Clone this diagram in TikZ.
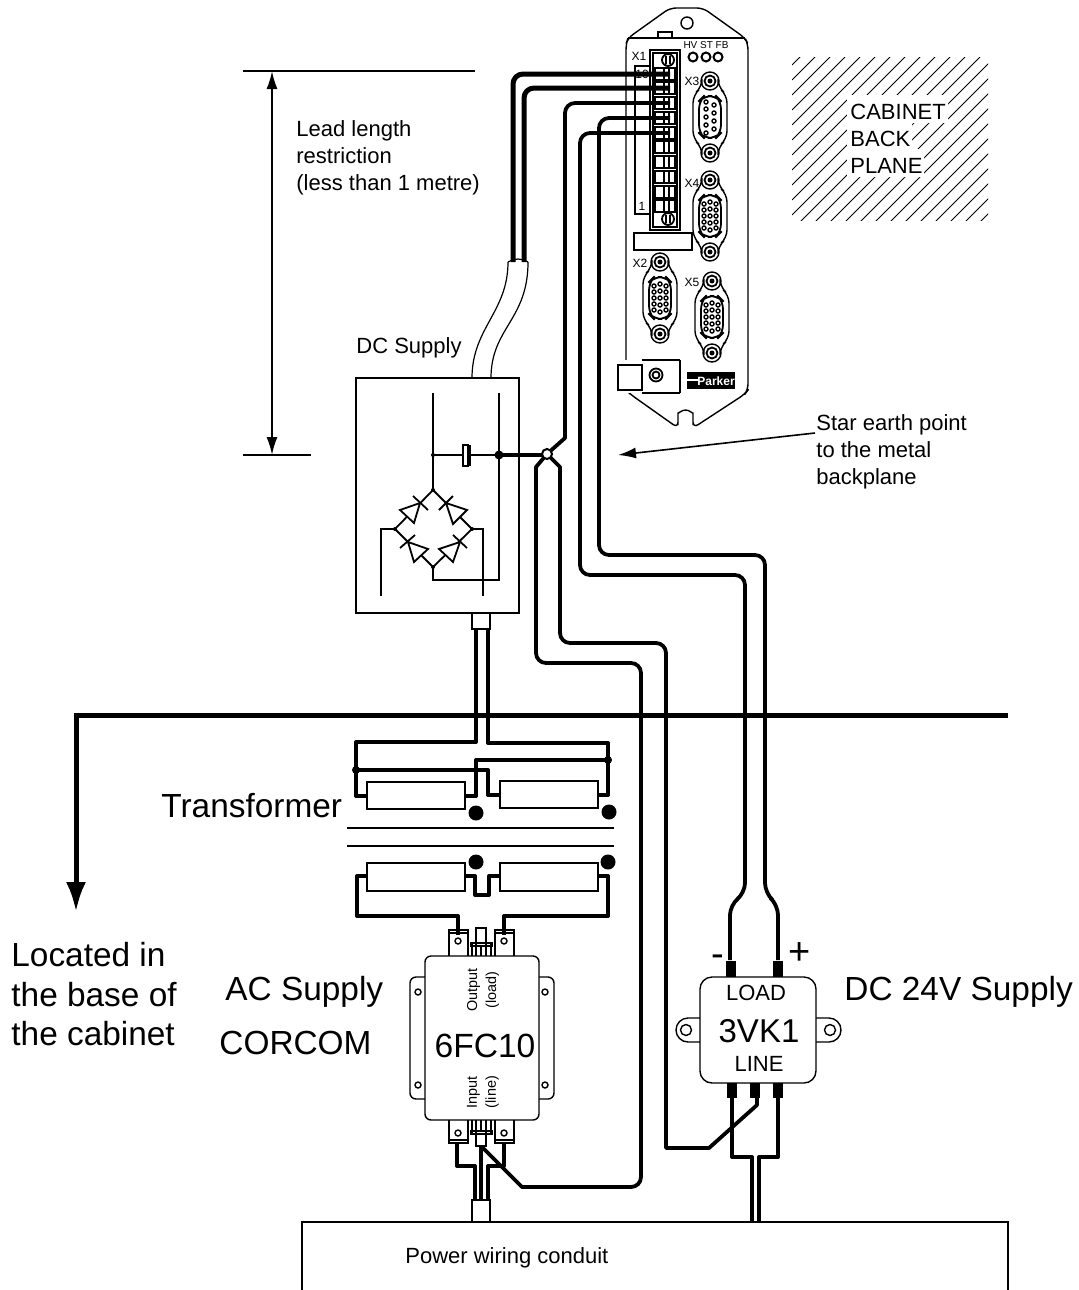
\documentclass[tikz,border=0pt]{standalone}
\usepackage{fontspec}
\setmainfont{Liberation Sans}
\usetikzlibrary{arrows.meta}
\tikzset{
  cablewire/.style={line width=2.5pt,rounded corners=5pt,line join=round},
  earthwire/.style={line width=1.9pt,rounded corners=5pt,line join=round},
  feedwire/.style={line width=2pt,line join=round},
  thinline/.style={line width=0.5pt},
  part/.style={line width=0.7pt},
  txt/.style={inner sep=0pt,font=\fontsize{11}{13.5}\selectfont,align=left},
  bigtxt/.style={inner sep=0pt,font=\fontsize{16.7}{19.8}\selectfont,align=left},
  tinytxt/.style={inner sep=0pt,font=\fontsize{6}{7}\selectfont},
  sidetxt/.style={inner sep=0pt,rotate=90,font=\fontsize{7.2}{9.5}\selectfont,align=center},
}
% connector with two screws, cx cy and the list of pins
\newcommand{\dsubport}[3]{
  \draw[part,rounded corners=4pt] (#1-8,#2-32) -- (#1-8,#2-30) -- (#1-17,#2-22) -- (#1-17,#2+22)
    -- (#1-8,#2+30) -- (#1-8,#2+32) (#1+8,#2-32) -- (#1+8,#2-30) -- (#1+17,#2-22) -- (#1+17,#2+22)
    -- (#1+8,#2+30) -- (#1+8,#2+32);
  \draw[line width=0.9pt,rounded corners=4pt] (#1-11,#2-16) -- (#1-6,#2-21) -- (#1+6,#2-21) -- (#1+11,#2-16)
    -- (#1+11,#2+16) -- (#1+6,#2+21) -- (#1-6,#2+21) -- (#1-11,#2+16) -- cycle;
  \foreach \sy in {-36,36}{
    \draw[part] (#1,#2+\sy) circle (9);
    \draw[line width=0.9pt] (#1,#2+\sy) circle (5.5);
    \fill (#1,#2+\sy) circle (2.5);
  }
  \foreach \px/\py in #3
    \draw[part] (#1+\px,#2+\py) circle (2);
}
\newcommand{\pinsnine}{-4/-15,-4/-8,-4/0,-4/8,-4/16,4/-12,4/-4,4/4,4/12}
\newcommand{\pinsfifteen}{-6/-12,-6/-6,-6/0,-6/6,-6/12,0/-14,0/-7,0/0,0/7,0/14,6/-12,6/-6,6/0,6/6,6/12}
\begin{document}
\begin{tikzpicture}[x=0.5pt,y=-0.5pt]
  \useasboundingbox (0,0) rectangle (1078,1290);
  % lead length
  \draw[thinline,line width=0.9pt] (243,71) -- (475,71) (243,455) -- (311,455);
  \draw[{Latex[length=9pt,width=5.5pt]}-{Latex[length=9pt,width=5.5pt]},line width=0.9pt] (272,71) -- (272,455);
  \node[txt,anchor=north west] (leadtext) at (296,120) {Lead length\\restriction\\(less than 1 metre)};
  % drive
  \draw[part,rounded corners=3pt] (626,44) -- (628,38) -- (670,8) -- (703,8) -- (745,38) -- (748,44)
    -- (748,390) -- (745,394) -- (693,428) -- (693,419) arc[start angle=0,end angle=-180,x radius=7.5,y radius=9]
    -- (678,428) -- (630,394) -- (626,390) -- cycle;
  \draw[part] (628,38) -- (745,38) (658,38) -- (658,32) -- (672,32) -- (672,38);
  \draw[part] (687,23) circle (6);
  \foreach \lx in {693,706,718}
    \draw[line width=1pt] (\lx,57) circle (4.5);
  \node[tinytxt,font=\fontsize{5}{6}\selectfont] (ledtext) at (706,45) {HV ST FB};
  \node[tinytxt] (xone) at (639,56) {X1};
  \node[tinytxt] (xthree) at (692,81) {X3};
  \node[tinytxt] (xfour) at (692,183) {X4};
  \node[tinytxt] (xtwo) at (640,263) {X2};
  \node[tinytxt] (xfive) at (692,282) {X5};
  \draw[thinline,line width=0.6pt] (650,66) -- (635,66) -- (635,214) -- (650,214);
  \node[tinytxt] (pinten) at (642,74) {10};
  \node[tinytxt] (pinone) at (642,206) {1};
  \draw[line width=1pt] (650,50) rectangle (680,230);
  \draw[part] (653,53) rectangle (677,227);
  \foreach \ty in {74,88,103,118,133,147,162,177,192,206}{
    \draw[part] (655,\ty-6) rectangle (675,\ty+6) (664,\ty-6) -- (664,\ty+6) (669,\ty-6) -- (669,\ty+6);
  }
  \foreach \ty in {60,219}{
    \draw[line width=0.9pt] (668,\ty) circle (6) (666,\ty-4) -- (666,\ty+4) (670,\ty-4) -- (670,\ty+4);
  }
  \draw[part] (634,233) rectangle (692,250);
  \dsubport{710}{117}{\pinsnine}
  \dsubport{710}{216}{\pinsfifteen}
  \dsubport{660}{298}{\pinsfifteen}
  \dsubport{712}{317}{\pinsfifteen}
  \fill[white] (618,360) rectangle (680,393);
  \draw[part] (618,365) rectangle (642,390) (642,360) -- (680,360) (642,393) -- (680,393) (642,365) -- (642,390) (680,360) -- (680,393);
  \draw[line width=0.9pt] (656,375) circle (6.5) (656,375) circle (3.5);
  \fill (687,372) rectangle (735,389);
  \draw[white,line width=0.6pt] (687,380) -- (699,380);
  \node[inner sep=0pt,white,font=\bfseries\fontsize{6}{7}\selectfont] (parker) at (716,381) {Parker};
  % back plane
  \begin{scope}
    \clip (792,57) rectangle (988,220);
    \foreach \hc in {0,...,23}
      \draw[thinline] (792,65+15*\hc) -- ++(360,-360);
  \end{scope}
  \fill[white] (847,95) rectangle (948,123) (847,123) rectangle (912,149) (847,149) rectangle (924,177);
  \node[txt,anchor=north west] (planetext) at (850,104) {CABINET\\BACK\\PLANE};
  % dc supply
  \node[txt,anchor=west] (dctext) at (356,348) {DC Supply};
  \draw[thinline,line width=0.6pt] (508,262) .. controls (508,312) and (472,328) .. (472,378);
  \draw[thinline,line width=0.6pt] (528,262) .. controls (528,320) and (491,328) .. (491,378);
  \draw[thinline,line width=0.6pt] (508,262) .. controls (514,258) and (522,258) .. (528,262);
  \draw[line width=1.4pt] (356,378) rectangle (519,613);
  \draw[line width=0.8pt] (433,393) -- (433,490) (499,393) -- (499,580) -- (433,580) -- (433,567);
  \draw[line width=0.8pt] (433,455) -- (463,455) (470,455) -- (499,455);
  \draw[line width=0.9pt] (463,445) rectangle (468,466);
  \draw[line width=1.1pt] (470,445) -- (470,466);
  \draw[line width=0.9pt] (433,490) -- (395,529) -- (433,567) -- (472,529) -- cycle;
  \draw[line width=0.8pt] (395,529) -- (381,529) -- (381,596) (472,529) -- (483,529) -- (483,596);
  \foreach \ax/\ay/\bx/\by/\cx/\cy/\dx/\dy/\ex/\ey in {420/503/400/510/414/523/413/496/428/510,446/503/467/510/453/524/453/496/439/510,408/542/428/549/414/562/415/535/400/548,460/542/439/549/453/562/453/535/467/548}{
    \draw[line width=0.9pt,fill=white] (\ax,\ay) -- (\bx,\by) -- (\cx,\cy) -- cycle;
    \draw[line width=0.9pt] (\dx,\dy) -- (\ex,\ey);
  }
  \fill (433,455) circle (2) (433,490) circle (2) (433,567) circle (2) (395,529) circle (2) (472,529) circle (2);
  \fill (499,455) circle (4.5);
  \draw[part] (472,613) -- (472,629) -- (490,629) -- (490,613);
  % wires from the drive
  \draw[cablewire] (670,74) -- (513,74) -- (513,262);
  \draw[cablewire] (670,88) -- (524,88) -- (524,262);
  \draw[earthwire] (670,103) -- (565,103) -- (565,300) [sharp corners] -- (565,438) -- (547,454);
  \draw[earthwire] (670,118) -- (599,118) -- (599,555) -- (765,555) -- (765,893) -- (778,905) -- (778,960);
  \draw[earthwire] (670,133) -- (580,133) -- (580,575) -- (745,575) -- (745,893) -- (730,905) -- (730,960);
  \draw[earthwire,sharp corners] (547,454) -- (536,467) -- (536,600) [rounded corners=5pt] -- (536,663) -- (641,663) -- (641,1187) [sharp corners] -- (522,1187) -- (482,1147);
  \draw[earthwire,sharp corners] (547,454) -- (560,467) -- (560,600) [rounded corners=5pt] -- (560,643) -- (666,643) -- (666,1000) [sharp corners] -- (666,1148) -- (709,1148) -- (757,1105) -- (757,1095);
  \draw[line width=1.9pt] (499,455) -- (542,455);
  % star point
  \draw[line width=1pt,fill=white] (547,454) circle (5);
  \node[txt,anchor=north west] (startext) at (816,414) {Star earth point\\to the metal\\backplane};
  \draw[-{Latex[length=9pt,width=5.5pt]},line width=0.8pt] (815,433) -- (618,455);
  % cabinet base
  \draw[-{Latex[length=15pt,width=10pt]},line width=2.5pt] (1008,715) -- (76,715) -- (76,912);
  \node[bigtxt,anchor=north west] (basetext) at (11,942) {Located in\\the base of\\the cabinet};
  % transformer
  \node[bigtxt,anchor=west] (transformertext) at (161,806) {Transformer};
  \draw[feedwire] (476,629) -- (476,742) -- (356,742) -- (356,796) -- (367,796);
  \draw[feedwire] (488,629) -- (488,743) -- (608,743) -- (608,795) -- (598,795);
  \draw[feedwire] (356,770) -- (488,770) -- (488,795) -- (500,795);
  \draw[feedwire] (608,760) -- (476,760) -- (476,796) -- (465,796);
  \fill (356,770) circle (4) (608,760) circle (4);
  \draw[line width=1.1pt] (367,782) rectangle (465,809) (500,781) rectangle (598,808) (367,863) rectangle (465,891) (500,863) rectangle (598,891);
  \fill (476,813) circle (7.5) (609,812) circle (7.5) (476,862) circle (7.5) (608,862) circle (7.5);
  \draw[line width=1pt] (347,828) -- (614,828) (347,846) -- (614,846);
  \draw[feedwire] (367,876) -- (357,876) -- (357,916) -- (458,916) -- (458,935);
  \draw[feedwire] (598,876) -- (608,876) -- (608,916) -- (504,916) -- (504,935);
  \draw[feedwire] (465,876) -- (475,876) -- (475,895) -- (489,895) -- (489,876) -- (500,876);
  % ac filter
  \node[bigtxt,anchor=west] (actext) at (225,992) {AC Supply};
  \node[bigtxt,anchor=west] (corcomtext) at (219,1043) {CORCOM};
  \draw[part,rounded corners=3pt] (425,977) -- (410,977) -- (410,1099) -- (425,1099);
  \draw[part,rounded corners=3pt] (539,977) -- (554,977) -- (554,1099) -- (539,1099);
  \draw[part] (418,992) circle (3) (418,1085) circle (3) (545,992) circle (3) (545,1085) circle (3);
  \draw[part,fill=white,rounded corners=3pt] (425,956) rectangle (539,1120);
  \foreach \fx in {449,495}{
    \draw[part] (\fx,956) -- (\fx,930) -- (\fx+19,930) -- (\fx+19,956) (\fx,933) -- (\fx+19,933);
    \draw[part] (\fx+9,941) circle (3);
    \draw[part] (\fx,1120) -- (\fx,1143) -- (\fx+19,1143) -- (\fx+19,1120) (\fx,1140) -- (\fx+19,1140);
    \draw[part] (\fx+9,1133) circle (3);
  }
  \draw[part] (472,956) -- (472,943) (491,956) -- (491,943) (476,956) -- (476,928) -- (486,928) -- (486,956) (481,946) -- (481,956) (471,943) rectangle (492,946);
  \draw[part] (472,1120) -- (472,1133) (491,1120) -- (491,1133) (476,1120) -- (476,1146) -- (486,1146) -- (486,1120) (481,1120) -- (481,1131) (471,1131) rectangle (492,1134);
  \node[sidetxt] (outputtext) at (483,990) {Output\\(load)};
  \node[sidetxt] (inputtext) at (483,1092) {Input\\(line)};
  \node[inner sep=0pt,font=\fontsize{16.8}{18}\selectfont] (filtertext) at (485,1046) {6FC10};
  \draw[feedwire] (457,1143) -- (457,1166) -- (475,1166) -- (475,1200);
  \draw[feedwire] (481,1146) -- (481,1200);
  \draw[feedwire] (504,1143) -- (504,1166) -- (488,1166) -- (488,1200);
  \draw[part] (472,1222) -- (472,1200) -- (490,1200) -- (490,1222);
  % dc supply unit
  \node[bigtxt,anchor=west] (unittext) at (844,992) {DC 24V Supply};
  \draw[part] (700,1018) -- (688,1018) arc[start angle=270,end angle=90,radius=12] -- (700,1042);
  \draw[part] (816,1018) -- (829,1018) arc[start angle=-90,end angle=90,radius=12] -- (816,1042);
  \draw[part] (686,1030) circle (5.5) (830,1030) circle (5.5);
  \draw[part,rounded corners=6pt] (700,977) rectangle (816,1083);
  \foreach \tx in {731,778}
    \fill (\tx-5,961) rectangle (\tx+5,977);
  \foreach \tx in {732,755,778}
    \fill (\tx-5,1083) rectangle (\tx+5,1098);
  \node[inner sep=0pt,font=\fontsize{19}{20}\selectfont] (minustext) at (718,961) {-};
  \node[inner sep=0pt,font=\fontsize{19}{20}\selectfont] (plustext) at (800,954) {+};
  \node[inner sep=0pt,font=\fontsize{11}{13}\selectfont] (loadtext) at (756,993) {LOAD};
  \node[inner sep=0pt,font=\fontsize{16.5}{18}\selectfont] (unitname) at (759,1031) {3VK1};
  \node[inner sep=0pt,font=\fontsize{11}{13}\selectfont] (linetext) at (759,1064) {LINE};
  \draw[feedwire] (732,1098) -- (732,1157) -- (752,1157) -- (752,1222);
  \draw[feedwire] (778,1098) -- (778,1157) -- (759,1157) -- (759,1222);
  % conduit
  \draw[line width=0.7pt] (302,1290) -- (302,1222) -- (1008,1222) -- (1008,1290);
  \node[txt,anchor=west] (conduittext) at (405,1258) {Power wiring conduit};
\end{tikzpicture}
\end{document}
